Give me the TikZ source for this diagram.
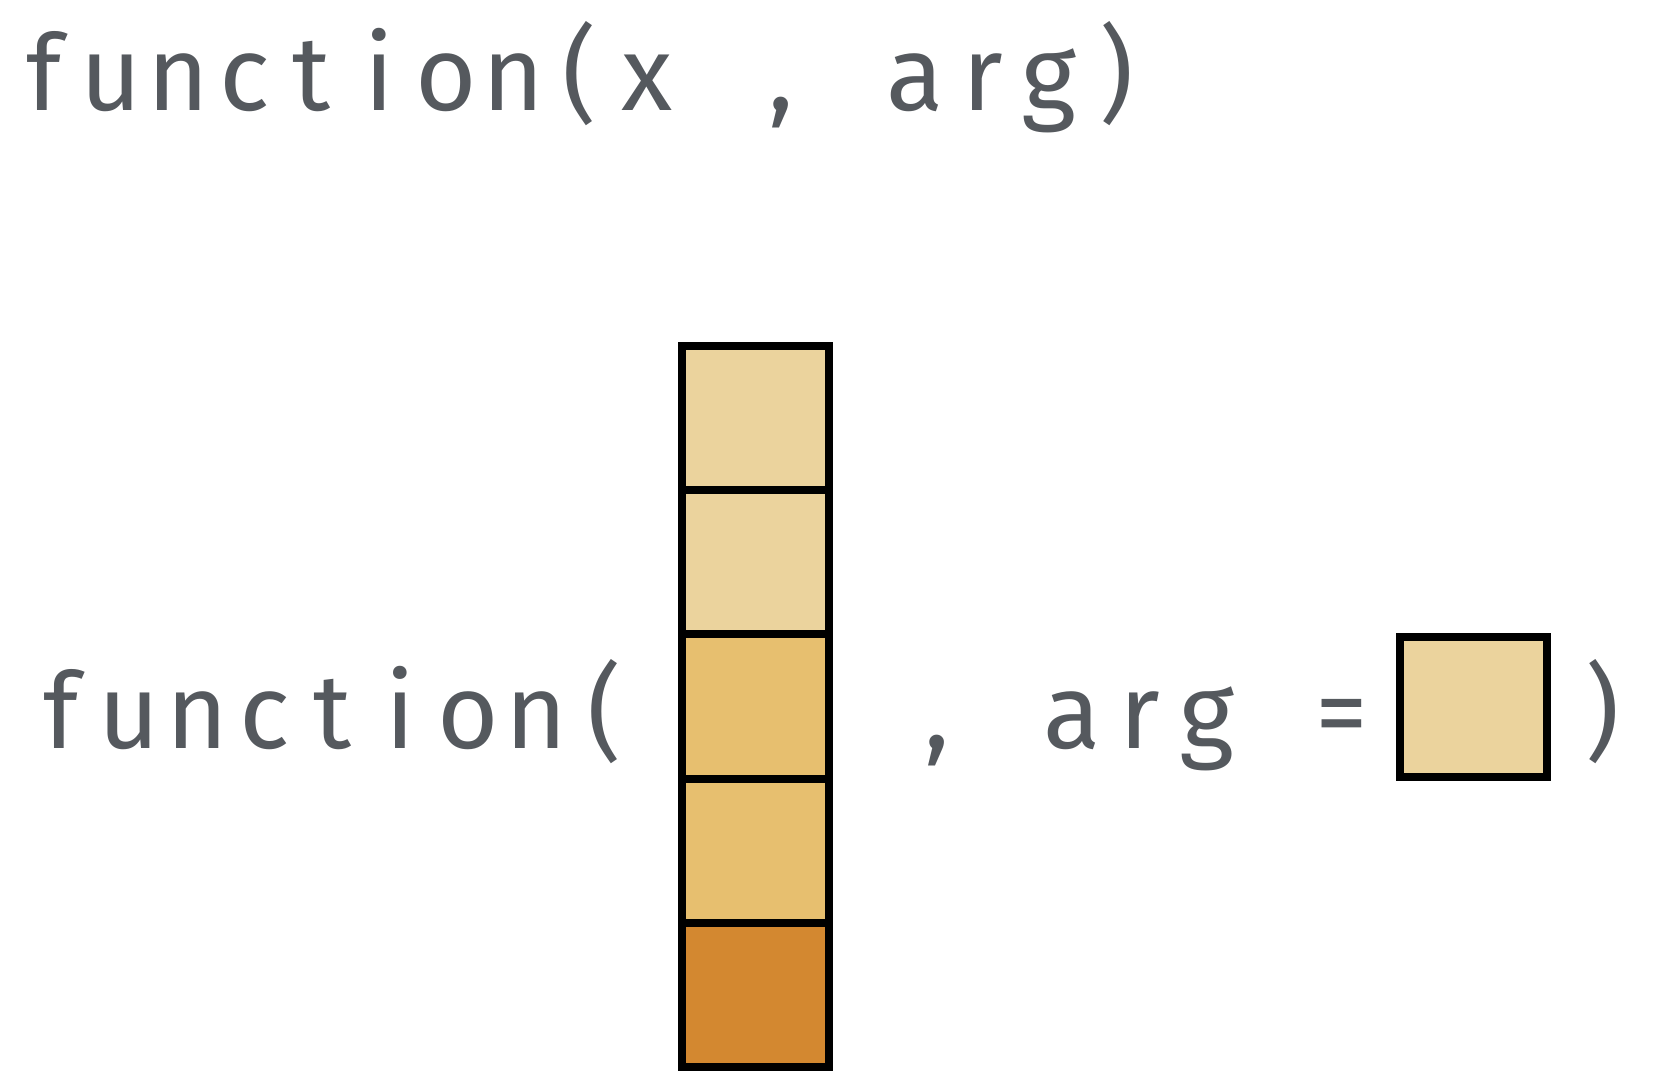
\documentclass[tikz,border=0pt]{standalone}
\usepackage{fontspec}
\newfontfamily\codefont{Fira Sans}
\usetikzlibrary{positioning}
\definecolor{codegray}{RGB}{85,89,94}
\definecolor{lightgold}{RGB}{235,211,157}
\definecolor{midgold}{RGB}{231,191,111}
\definecolor{darkgold}{RGB}{211,136,48}
\makeatletter
\newcommand\monotext[2][1.35cm]{\@tfor\mch:=#2\do{\makebox[#1]{\mch}}}
\makeatother

\begin{document}
\begin{tikzpicture}[x=0.02cm,y=-0.02cm,
    code/.style={anchor=base west, inner sep=0pt, text=codegray, font=\codefont\fontsize{60}{72}\selectfont},
    cell/.style={draw=black, line width=0.16cm, inner sep=0pt, outer sep=0pt, minimum width=2.94cm, minimum height=2.884cm}]
    \useasboundingbox (0,0) rectangle (1656,1078);
    \node[code] (call) at (10,111) {\monotext[1.341cm]{function(x~,~arg)}};
    \node[code] (callopen) at (27,748) {\monotext[1.358cm]{function(}};
    \node[cell, fill=lightgold] (x1) at (755.5,418.1) {};
    \node[cell, fill=lightgold] (x2) at (755.5,562.3) {};
    \node[cell, fill=midgold] (x3) at (755.5,706.5) {};
    \node[cell, fill=midgold] (x4) at (755.5,850.7) {};
    \node[cell, fill=darkgold] (x5) at (755.5,994.9) {};
    \node[code] (argeq) at (903,748) {\monotext{,~arg~=}};
    \node[cell, fill=lightgold, minimum height=2.8cm] (argval) at (1473.5,707) {};
    \node[code] (callclose) at (1568,748) {\monotext{)}};
\end{tikzpicture}
\end{document}
